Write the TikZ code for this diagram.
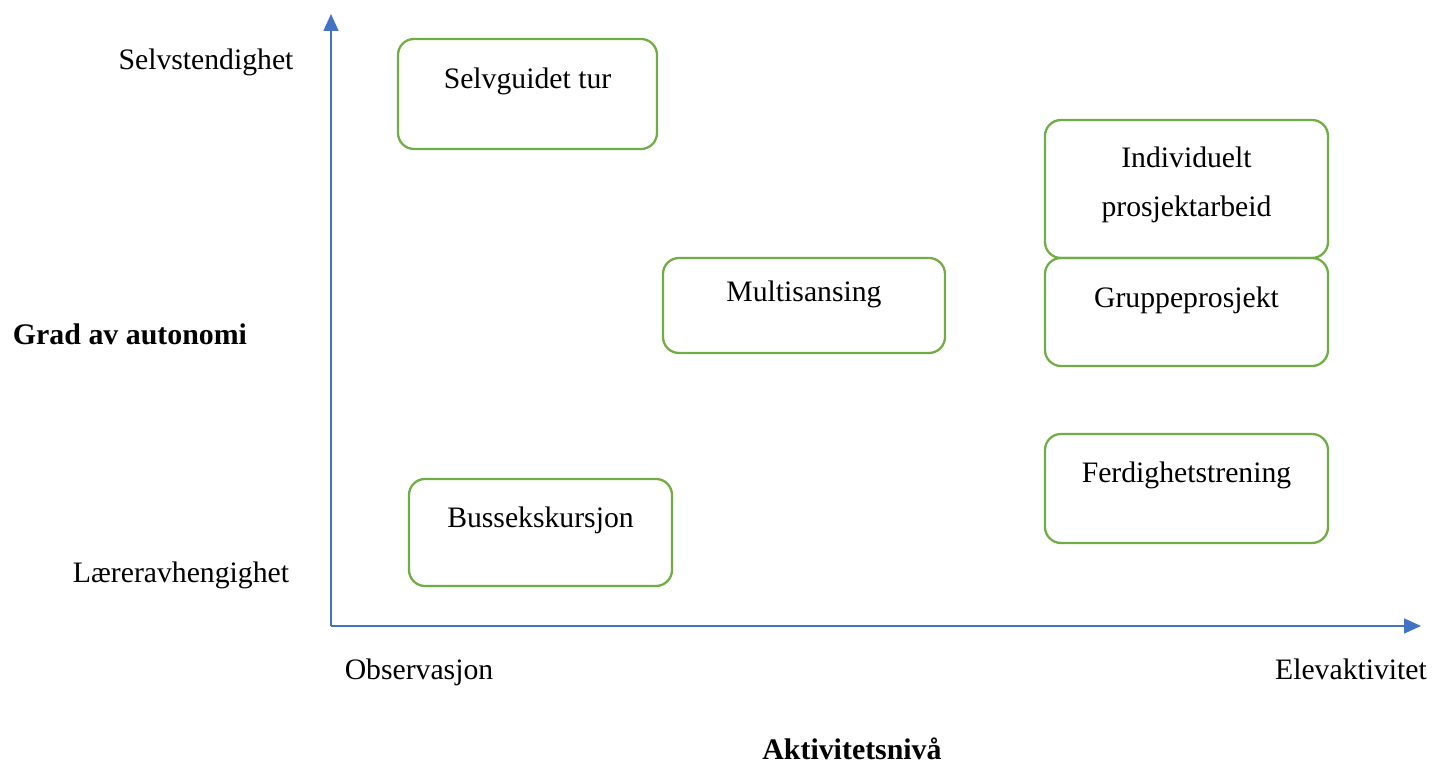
\documentclass[tikz,border=0pt]{standalone}
\usepackage{fontspec}
\setmainfont{Liberation Serif}
\usetikzlibrary{arrows.meta}
\definecolor{axisblue}{HTML}{4472C4}
\definecolor{boxgreen}{HTML}{70AD47}
\begin{document}
\begin{tikzpicture}[
        font=\fontsize{8.45}{14.2}\selectfont,
        axis/.style={axisblue, line width=0.45pt, -{Triangle[length=0.17cm,width=0.15cm]}},
        activity/.style={draw=boxgreen, line width=0.65pt, rounded corners=0.16cm,
            inner ysep=0pt, align=center},
        axislabel/.style={anchor=base},
        axistitle/.style={anchor=base, font=\fontsize{8.5}{10}\selectfont\bfseries}
    ]
        \useasboundingbox (0,0) rectangle (14.42,7.63);

        % Axes
        \coordinate (origin) at (3.31,1.37);
        \coordinate (ytip) at (3.31,7.49);
        \coordinate (xtip) at (14.21,1.37);
        \draw[axis] (origin) -- (ytip);
        \draw[axis] (origin) -- (xtip);

        % Axis labels
        \node[axislabel] (selv) at (2.06,6.93) {Selvstendighet};
        \node[axislabel] (laerer) at (1.81,1.80) {Læreravhengighet};
        \node[axistitle] (grad) at (1.30,4.18) {Grad av autonomi};
        \node[axislabel] (obs) at (4.19,0.83) {Observasjon};
        \node[axislabel] (elev) at (13.51,0.83) {Elevaktivitet};
        \node[axistitle] (niva) at (8.52,0.03) {Aktivitetsnivå};

        % Activities
        \node[activity, minimum width=2.59cm, text height=0.50cm, text depth=0.60cm]
            (tur) at (5.275,6.69) {Selvguidet tur};
        \node[activity, minimum width=2.83cm, text height=0.97cm, text depth=0.41cm]
            (indiv) at (11.865,5.74) {Individuelt\\prosjektarbeid};
        \node[activity, minimum width=2.83cm, text height=0.50cm, text depth=0.58cm]
            (gruppe) at (11.865,4.51) {Gruppeprosjekt};
        \node[activity, minimum width=2.82cm, text height=0.44cm, text depth=0.51cm]
            (multi) at (8.04,4.575) {Multisansing};
        \node[activity, minimum width=2.83cm, text height=0.49cm, text depth=0.60cm]
            (ferdig) at (11.865,2.745) {Ferdighetstrening};
        \node[activity, minimum width=2.63cm, text height=0.49cm, text depth=0.58cm]
            (buss) at (5.405,2.305) {Bussekskursjon};
    \end{tikzpicture}
\end{document}
